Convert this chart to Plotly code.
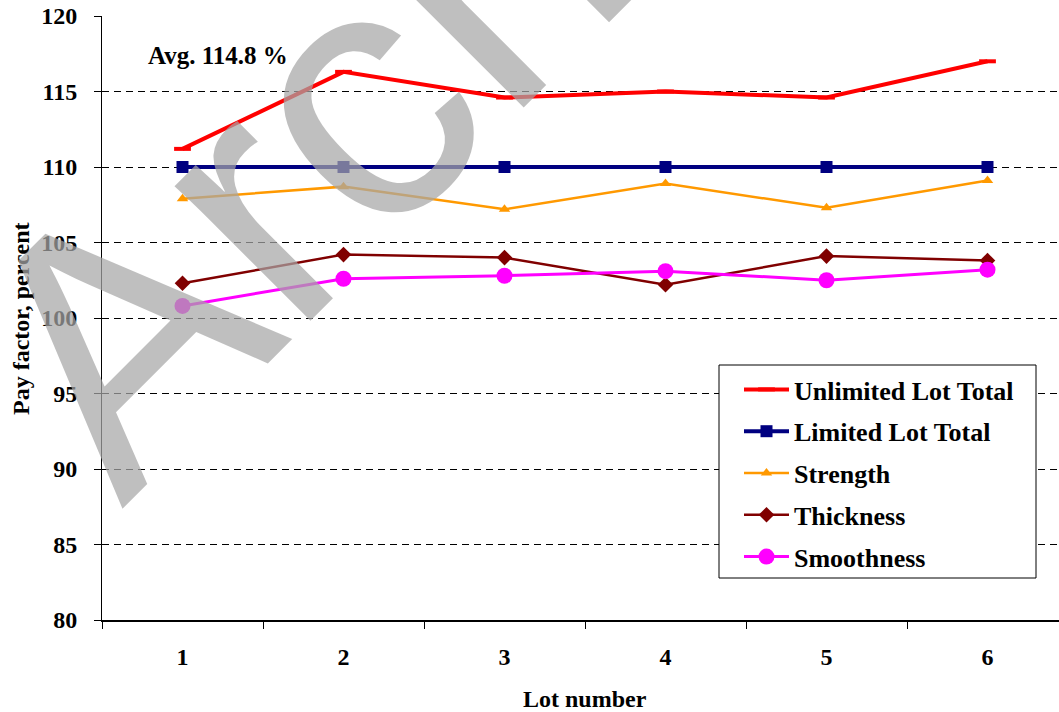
import math
import plotly.graph_objects as go

# Lot numbers and pay factors (percent) for each series
lots = ["1", "2", "3", "4", "5", "6"]
unlimited_total = [111.2, 116.3, 114.6, 115.0, 114.6, 117.0]
limited_total = [110.0, 110.0, 110.0, 110.0, 110.0, 110.0]
strength = [107.9, 108.7, 107.2, 108.9, 107.3, 109.1]
thickness = [102.3, 104.2, 104.0, 102.2, 104.1, 103.8]
smoothness = [100.8, 102.6, 102.8, 103.1, 102.5, 103.2]

y_ticks = [80, 85, 90, 95, 100, 105, 110, 115, 120]

avg_unlimited = sum(unlimited_total) / len(unlimited_total)

W, H = 1059, 712
L, R, T, B = 102, 1059, 16, 620
SERIF = "Liberation Serif, Times New Roman, serif"
FS = 24


def px(x):
    return (x - L) / (R - L)


def py(y):
    return (B - y) / (B - T)


fig = go.Figure()

series = [
    ("Unlimited Lot Total", unlimited_total, "#FF0000", 4, "line-ew", 12, 4),
    ("Limited Lot Total", limited_total, "#000080", 4, "square", 12, 0),
    ("Strength", strength, "#FF9900", 2.5, "triangle-up", 10, 0),
    ("Thickness", thickness, "#800000", 2.5, "diamond", 12, 0),
    ("Smoothness", smoothness, "#FF00FF", 3, "circle", 16, 0),
]

for i, (name, vals, color, lw, sym, ms, mlw) in enumerate(series):
    fig.add_trace(go.Scatter(
        x=lots, y=vals, name=name, mode="lines+markers",
        legendgroup=f"g{i}",
        line=dict(color=color, width=lw),
        marker=dict(symbol=sym, size=ms, color=color,
                    line=dict(color=color, width=mlw)),
    ))

fig.update_layout(
    width=W, height=H,
    margin=dict(l=L, r=W - R, t=T, b=H - B),
    paper_bgcolor="white", plot_bgcolor="white",
    font=dict(family=SERIF, size=FS, color="black"),
    showlegend=True,
    legend=dict(
        x=px(739), y=py(366), xanchor="left", yanchor="top",
        bgcolor="rgba(0,0,0,0)", borderwidth=0,
        font=dict(family=SERIF, size=26, color="black", weight="bold"),
        tracegroupgap=5, itemwidth=45, traceorder="grouped",
    ),
    xaxis=dict(
        type="category", range=[-0.5, -0.5 + (R - L) / 161.0],
        tickson="boundaries", ticks="outside", ticklen=7, tickcolor="black",
        showline=True, linecolor="black", linewidth=2,
        showgrid=False, zeroline=False,
        tickfont=dict(family=SERIF, size=FS, weight="bold"),
        ticklabelstandoff=14,
    ),
    yaxis=dict(
        range=[80, 120], tickvals=y_ticks, ticks="outside", ticklen=7,
        tickcolor="black",
        showline=True, linecolor="black", linewidth=1,
        showgrid=True, gridcolor="black", gridwidth=1, griddash="7px,5px",
        zeroline=False,
        tickfont=dict(family=SERIF, size=FS, weight="bold"),
        ticklabelstandoff=12,
    ),
    # white, outlined panel behind the legend entries
    shapes=[dict(type="rect", xref="paper", yref="paper", layer="above",
                 x0=px(719), x1=px(1036), y0=py(578), y1=py(365),
                 fillcolor="white", line=dict(color="black", width=1))],
)

annotations = [
    dict(text="Avg. %.1f %%" % avg_unlimited, x=px(146), y=py(55),
         xanchor="left", yanchor="middle",
         font=dict(family=SERIF, size=25, weight="bold")),
    dict(text="Lot number", x=px(585), y=py(699),
         xanchor="center", yanchor="middle",
         font=dict(family=SERIF, size=FS, weight="bold")),
    dict(text="Pay factor, percent", x=px(21), y=py(319), textangle=-90,
         xanchor="center", yanchor="middle",
         font=dict(family=SERIF, size=FS, weight="bold")),
]

# Diagonal watermark drawn over the chart
wm_text = "Archived"
wm_size = 362
ang = math.radians(45)
d = (math.cos(ang), -math.sin(ang))
u = (-math.sin(ang), -math.cos(ang))
ox, oy = 123, 510
half_w = 3.89 * wm_size / 2
up = 0.35 * wm_size
cx = ox + half_w * d[0] + up * u[0]
cy = oy + half_w * d[1] + up * u[1]
annotations.append(dict(
    text=wm_text, x=px(cx), y=py(cy), xanchor="center", yanchor="middle",
    textangle=-45, showarrow=False,
    font=dict(family="Liberation Sans, Arial, sans-serif", size=wm_size,
              color="rgba(166,166,166,0.72)"),
))

for a in annotations:
    a.setdefault("showarrow", False)
    a["xref"] = "paper"
    a["yref"] = "paper"
fig.update_layout(annotations=annotations)

fig.write_html("out.html")
